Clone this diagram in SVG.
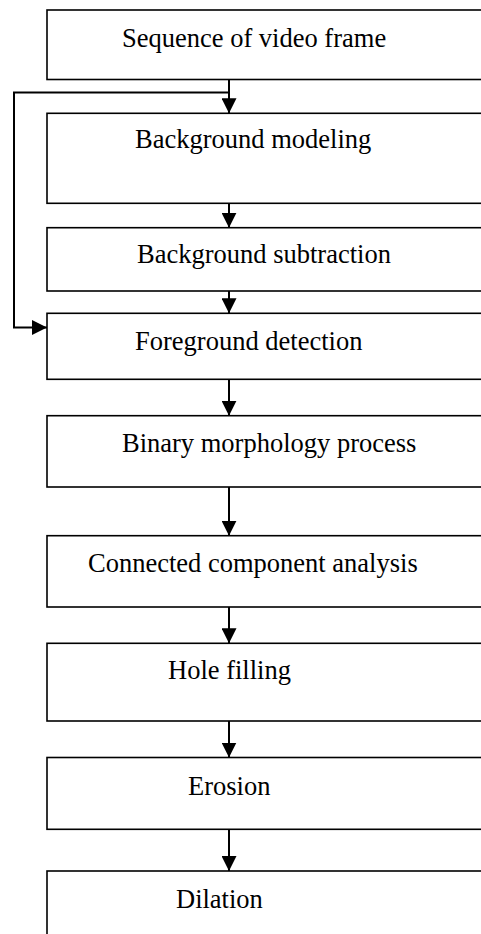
<svg xmlns="http://www.w3.org/2000/svg" width="481" height="934" viewBox="0 0 481 934">
<style>
.box{fill:#fff;stroke:#000;stroke-width:1.6}
.lbl{font-family:"Liberation Serif","Times New Roman",serif;font-size:26.5px;fill:#000}
.con{fill:none;stroke:#000;stroke-width:2}
</style>
<defs>
<marker id="ah" markerUnits="userSpaceOnUse" markerWidth="15" markerHeight="15" refX="15" refY="7.5" orient="auto">
<path d="M0,0 L15,7.5 L0,15 Z" fill="#000"/>
</marker>
</defs>
<rect x="0" y="0" width="481" height="934" fill="#fff"/>
<g id="n1"><rect class="box" x="47" y="10" width="450" height="69.5"/><text class="lbl" x="122" y="47">Sequence of video frame</text></g>
<g id="n2"><rect class="box" x="47" y="113.3" width="450" height="90"/><text class="lbl" x="135" y="148">Background modeling</text></g>
<g id="n3"><rect class="box" x="47" y="227.7" width="450" height="63.3"/><text class="lbl" x="137" y="263">Background subtraction</text></g>
<g id="n4"><rect class="box" x="47" y="313.3" width="450" height="66"/><text class="lbl" x="135" y="350">Foreground detection</text></g>
<g id="n5"><rect class="box" x="47" y="415.7" width="450" height="71.3"/><text class="lbl" x="122" y="452">Binary morphology process</text></g>
<g id="n6"><rect class="box" x="47" y="535.7" width="450" height="71.3"/><text class="lbl" x="88" y="572">Connected component analysis</text></g>
<g id="n7"><rect class="box" x="47" y="643.3" width="450" height="77.7"/><text class="lbl" x="168" y="679">Hole filling</text></g>
<g id="n8"><rect class="box" x="47" y="757.5" width="450" height="71.8"/><text class="lbl" x="188" y="795">Erosion</text></g>
<g id="n9"><rect class="box" x="47" y="871" width="450" height="100"/><text class="lbl" x="176" y="908">Dilation</text></g>
<g id="connectors">
<line class="con" x1="229" y1="79.5" x2="229" y2="113.3" marker-end="url(#ah)"/>
<line class="con" x1="229" y1="203.3" x2="229" y2="227.7" marker-end="url(#ah)"/>
<line class="con" x1="229" y1="291" x2="229" y2="313.3" marker-end="url(#ah)"/>
<line class="con" x1="229" y1="379.3" x2="229" y2="415.7" marker-end="url(#ah)"/>
<line class="con" x1="229" y1="487" x2="229" y2="535.7" marker-end="url(#ah)"/>
<line class="con" x1="229" y1="607" x2="229" y2="643.3" marker-end="url(#ah)"/>
<line class="con" x1="229" y1="721" x2="229" y2="757.5" marker-end="url(#ah)"/>
<line class="con" x1="229" y1="829.3" x2="229" y2="871" marker-end="url(#ah)"/>
<polyline class="con" points="229,92.5 14,92.5 14,327.5 47,327.5" marker-end="url(#ah)"/>
</g>
</svg>
